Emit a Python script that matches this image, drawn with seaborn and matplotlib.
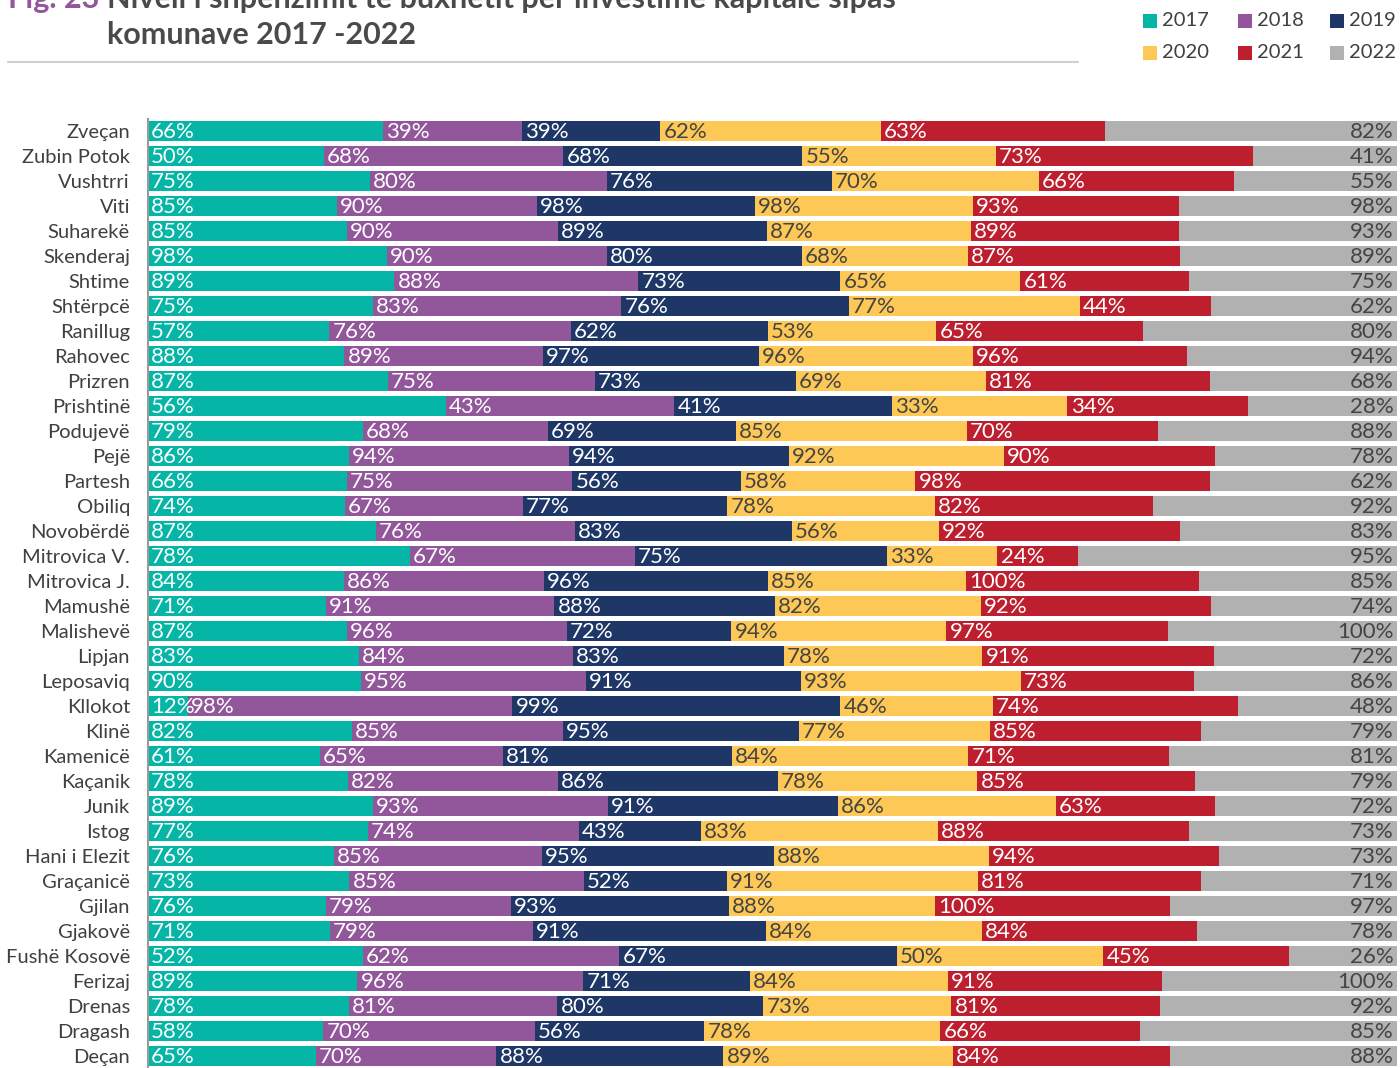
import numpy as np
import pandas as pd
import matplotlib.pyplot as plt
import seaborn as sns
from matplotlib.patches import Rectangle

# data
municipalities = ['Zveçan', 'Zubin Potok', 'Vushtrri', 'Viti', 'Suharekë', 'Skenderaj', 'Shtime',
                  'Shtërpcë', 'Ranillug', 'Rahovec', 'Prizren', 'Prishtinë', 'Podujevë', 'Pejë',
                  'Partesh', 'Obiliq', 'Novobërdë', 'Mitrovica V.', 'Mitrovica J.', 'Mamushë',
                  'Malishevë', 'Lipjan', 'Leposaviq', 'Kllokot', 'Klinë', 'Kamenicë', 'Kaçanik',
                  'Junik', 'Istog', 'Hani i Elezit', 'Graçanicë', 'Gjilan', 'Gjakovë',
                  'Fushë Kosovë', 'Ferizaj', 'Drenas', 'Dragash', 'Deçan']
years = ['2017', '2018', '2019', '2020', '2021', '2022']

y2017 = [66, 50, 75, 85, 85, 98, 89, 75, 57, 88, 87, 56, 79, 86, 66, 74, 87, 78, 84, 71,
         87, 83, 90, 12, 82, 61, 78, 89, 77, 76, 73, 76, 71, 52, 89, 78, 58, 65]
y2018 = [39, 68, 80, 90, 90, 90, 88, 83, 76, 89, 75, 43, 68, 94, 75, 67, 76, 67, 86, 91,
         96, 84, 95, 98, 85, 65, 82, 93, 74, 85, 85, 79, 79, 62, 96, 81, 70, 70]
y2019 = [39, 68, 76, 98, 89, 80, 73, 76, 62, 97, 73, 41, 69, 94, 56, 77, 83, 75, 96, 88,
         72, 83, 91, 99, 95, 81, 86, 91, 43, 95, 52, 93, 91, 67, 71, 80, 56, 88]
y2020 = [62, 55, 70, 98, 87, 68, 65, 77, 53, 96, 69, 33, 85, 92, 58, 78, 56, 33, 85, 82,
         94, 78, 93, 46, 77, 84, 78, 86, 83, 88, 91, 88, 84, 50, 84, 73, 78, 89]
y2021 = [63, 73, 66, 93, 89, 87, 61, 44, 65, 96, 81, 34, 70, 90, 98, 82, 92, 24, 100, 92,
         97, 91, 73, 74, 85, 71, 85, 63, 88, 94, 81, 100, 84, 45, 91, 81, 66, 84]
y2022 = [82, 41, 55, 98, 93, 89, 75, 62, 80, 94, 68, 28, 88, 78, 62, 92, 83, 95, 85, 74,
         100, 72, 86, 48, 79, 81, 79, 72, 73, 73, 71, 97, 78, 26, 100, 92, 85, 88]

colors = ['#05b5a6', '#92579b', '#1e3766', '#fdc856', '#bd1f2e', '#b1b1b1']
text_colors = ['white', 'white', 'white', '#444444', 'white', '#444444']

df = pd.DataFrame({'2017': y2017, '2018': y2018, '2019': y2019,
                   '2020': y2020, '2021': y2021, '2022': y2022}, index=municipalities)
share = df.div(df.sum(axis=1), axis=0) * 100
cum = share.cumsum(axis=1)
start = cum - share

sns.set_theme(style='white')
plt.rcParams['font.family'] = ['Lato', 'DejaVu Sans']

fig = plt.figure(figsize=(14, 10.68), dpi=100)
ax = fig.add_axes([148 / 1400, 1 - 1068.5 / 1068, 1249 / 1400, 950 / 1068])

# stacked bars: draw cumulative widths from the last year back to the first
for yr, col in reversed(list(zip(years, colors))):
    sns.barplot(x=cum[yr].values, y=municipalities, color=col, saturation=1,
                width=0.8, orient='h', ax=ax, linewidth=0)

for i, name in enumerate(municipalities):
    for k, yr in enumerate(years):
        v = df.loc[name, yr]
        if yr == '2022':
            ax.text(99.7, i + 0.04, f'{v}%', ha='right', va='center', fontsize=16,
                    color=text_colors[k])
        else:
            ax.text(start.loc[name, yr] + 0.25, i + 0.04, f'{v}%', ha='left', va='center',
                    fontsize=16, color=text_colors[k])

ax.set_xlim(0, 100)
ax.set_ylim(len(municipalities) - 0.5, -0.5)
ax.set_xlabel('')
ax.set_ylabel('')
ax.set_xticks([])
ax.tick_params(axis='y', length=0, pad=13, labelsize=14.5, labelcolor='#404040')
for s in ['top', 'right', 'bottom']:
    ax.spines[s].set_visible(False)
ax.spines['left'].set_color('#9a9a9a')
ax.spines['left'].set_linewidth(1.5)

# title (first line is cut off at the top of the image, as in the source)
fig.text(8 / 1400, 1 - 8 / 1068, 'Fig. 23', fontsize=22, fontweight='bold', color='#92579b',
         va='baseline', ha='left')
fig.text(107 / 1400, 1 - 8 / 1068,
         'Niveli i shpenzimit të buxhetit për investime kapitale sipas',
         fontsize=22, fontweight='bold', color='#4a4a4a', va='baseline', ha='left')
fig.text(107 / 1400, 1 - 44 / 1068, 'komunave 2017 -2022', fontsize=22, fontweight='bold',
         color='#4a4a4a', va='baseline', ha='left')
fig.add_artist(plt.Line2D([8 / 1400, 1078 / 1400], [1 - 62 / 1068, 1 - 62 / 1068],
                          color='#d0d0d0', linewidth=1.5))

# legend: 2017 2018 2019 / 2020 2021 2022
leg_x = [1143, 1238, 1330]
leg_y = [21, 53]
for k, (yr, col) in enumerate(zip(years, colors)):
    px = leg_x[k % 3]
    py = leg_y[k // 3]
    fig.add_artist(Rectangle((px / 1400, 1 - (py + 7) / 1068), 14 / 1400, 14 / 1068,
                             facecolor=col, edgecolor='none', transform=fig.transFigure))
    fig.text((px + 19) / 1400, 1 - py / 1068, yr, fontsize=14.5, color='#404040',
             va='center', ha='left')

fig.savefig('out.png', dpi=100)
